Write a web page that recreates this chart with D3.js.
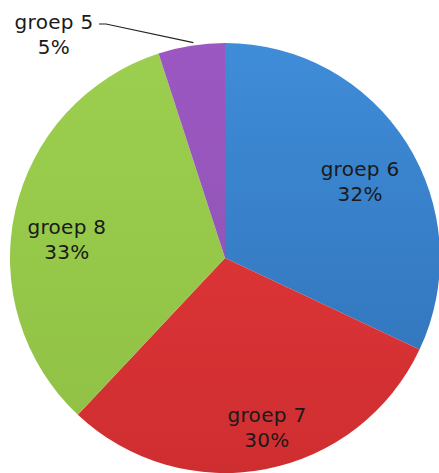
<!DOCTYPE html>
<html>
<head>
<meta charset="utf-8">
<script src="https://cdn.jsdelivr.net/npm/d3@7"></script>
<style>
  body { margin: 0; background: #fff; }
  svg { display: block; }
  .slice-label { font-family: "DejaVu Sans", sans-serif; font-size: 20px; fill: #1a1a1a; letter-spacing: 0.3px; }
</style>
</head>
<body>
<div id="chart"></div>
<script>
// data
var groepen = ["groep 6", "groep 7", "groep 8", "groep 5"];
var percentages = [32, 30, 33, 5];
var kleurenBoven = ["#3f8cd8", "#e6393b", "#9ccf4f", "#9c57c2"];
var kleurenOnder = ["#2e70b5", "#cf2e31", "#8fc044", "#8a55ad"];

var width = 439, height = 473;
var cx = 225, cy = 258, radius = 215;

var svg = d3.select("#chart").append("svg")
  .attr("width", width)
  .attr("height", height);

// gradients per slice
var defs = svg.append("defs");
groepen.forEach(function(g, i) {
  var grad = defs.append("linearGradient")
    .attr("id", "grad" + i)
    .attr("gradientUnits", "userSpaceOnUse")
    .attr("x1", 0).attr("y1", -radius)
    .attr("x2", 0).attr("y2", radius);
  grad.append("stop").attr("offset", "0%").attr("stop-color", kleurenBoven[i]);
  grad.append("stop").attr("offset", "100%").attr("stop-color", kleurenOnder[i]);
});

var data = groepen.map(function(g, i) { return { naam: g, waarde: percentages[i], i: i }; });

var pie = d3.pie()
  .sort(null)
  .value(function(d) { return d.waarde; });

var arc = d3.arc().innerRadius(0).outerRadius(radius);
var labelArc = d3.arc().innerRadius(160).outerRadius(160);

var g = svg.append("g")
  .attr("transform", "translate(" + cx + "," + cy + ")");

var arcs = pie(data);

g.selectAll(".slice")
  .data(arcs)
  .enter().append("path")
  .attr("class", "slice")
  .attr("d", arc)
  .style("fill", function(d) { return "url(#grad" + d.data.i + ")"; });

// label nudges (Excel "best fit" look)
var nudge = { "groep 6": [0, 8], "groep 7": [12, 11], "groep 8": [-2, 15] };

arcs.forEach(function(d) {
  var naam = d.data.naam;
  var x, y;
  if (d.data.waarde < 10) {
    // outside label with leader line
    var mid = (d.startAngle + d.endAngle) / 2;
    var edge = [Math.sin(mid) * radius, -Math.cos(mid) * radius];
    x = -171; y = -225;
    g.append("polyline")
      .attr("points", [[x + 45, y - 9], [x + 52, y - 9], [edge[0] + 2, edge[1] - 3]].map(function(p) { return p.join(","); }).join(" "))
      .style("fill", "none")
      .style("stroke", "#222")
      .style("stroke-width", 1.2);
  } else {
    var c = labelArc.centroid(d);
    x = c[0] + nudge[naam][0];
    y = c[1] + nudge[naam][1];
  }
  var t = g.append("text")
    .attr("class", "slice-label")
    .attr("text-anchor", "middle")
    .attr("x", x)
    .attr("y", y);
  t.append("tspan").attr("x", x).attr("dy", "-0.2em").text(naam);
  t.append("tspan").attr("x", x).attr("dy", "1.25em").text(d.data.waarde + "%");
});
</script>
</body>
</html>
